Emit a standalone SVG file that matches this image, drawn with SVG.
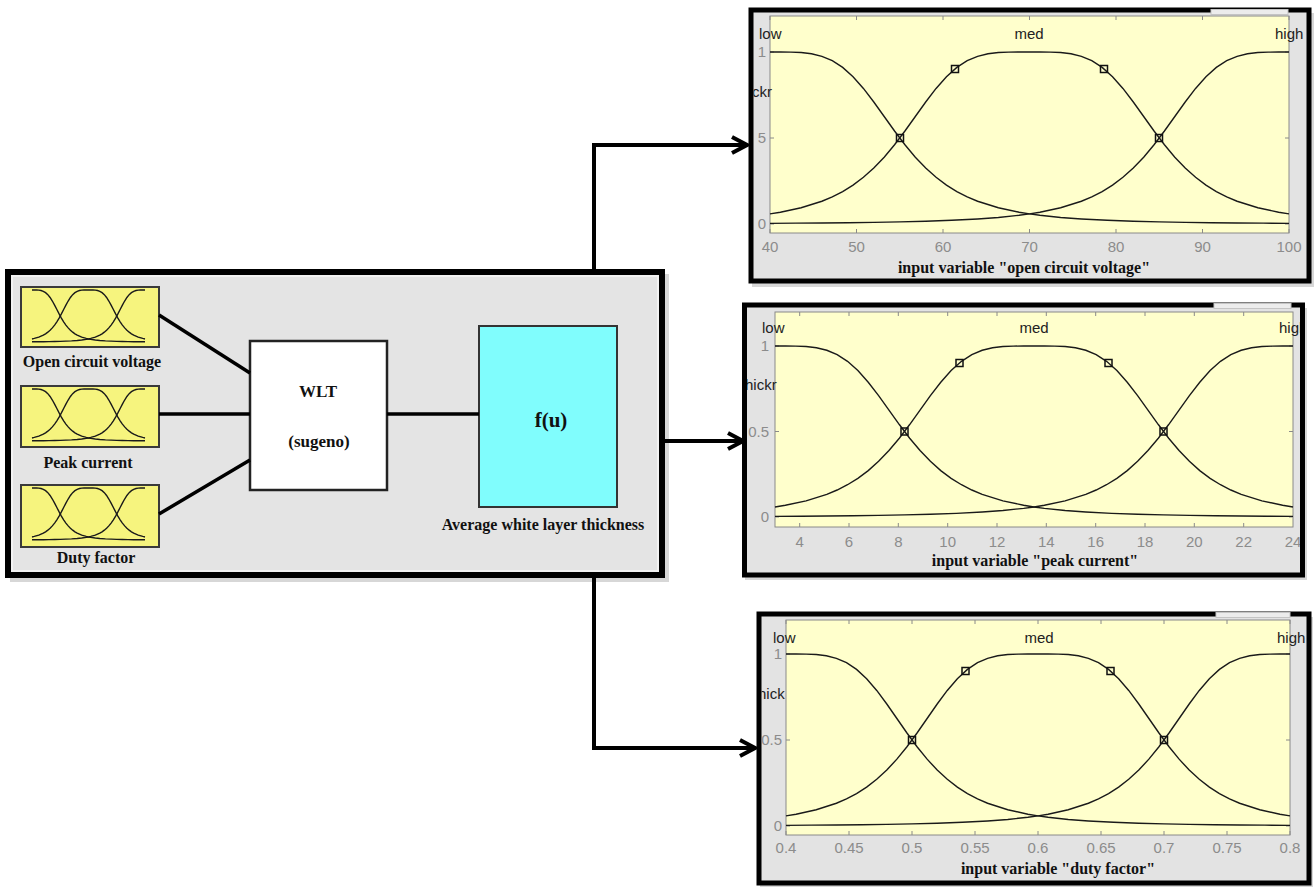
<svg xmlns="http://www.w3.org/2000/svg" xmlns:xlink="http://www.w3.org/1999/xlink" width="1316" height="887" viewBox="0 0 1316 887">
<style>
.frame{fill:#e3e3e3;stroke:#000;stroke-width:5}
.shadow{fill:#9a9a9a;opacity:0.4}
.plot{fill:#ffffcc;stroke:#8a8a8a;stroke-width:1}
.mfl{fill:none;stroke:#1a1a1a;stroke-width:1.4;vector-effect:non-scaling-stroke}
.mini .mfl{stroke:#3a3a10;stroke-width:1.6}
.tick{fill:none;stroke:#8a8a8a;stroke-width:1}
.tl{font-family:"Liberation Sans",Arial,sans-serif;font-size:15px;fill:#8c8c8c}
.ml{font-family:"Liberation Sans",Arial,sans-serif;font-size:15px;fill:#222}
.ttl{font-family:"Liberation Serif","Times New Roman",serif;font-weight:bold;font-size:16px;fill:#111;text-anchor:middle}
.lbl{font-family:"Liberation Serif","Times New Roman",serif;font-weight:bold;font-size:16px;fill:#111;text-anchor:middle}
.sq{fill:none;stroke:#111;stroke-width:1.5}
.conn{fill:none;stroke:#000;stroke-width:3.5}
.arrow{fill:none;stroke:#000;stroke-width:4;marker-end:url(#chev)}
.ybox{fill:#f6f47e;stroke:#3a3a3a;stroke-width:2}
.gui{fill:#ececec;stroke:#c4c4c4;stroke-width:1}
</style>
<defs>
<marker id="chev" markerUnits="userSpaceOnUse" markerWidth="22" markerHeight="22" viewBox="0 0 22 22" refX="19" refY="11" orient="auto">
<path d="M4,3 L19,11 L4,19" fill="none" stroke="#000" stroke-width="4"/>
</marker>
<g id="mf">
<polyline class="mfl" points="0,0 20,0 40,0.7 60,3.3 80,10.4 100,25 120,50.4 140,89.5 160,143.7 180,211.8 200,290.6 220,374.9 240,459.3 260,539.2 280,611.4 300,674.6 320,728.6 340,773.8 360,811.3 380,842.2 400,867.6 440,905.6 480,931.5 500,941.2 520,949.3 560,961.8 600,970.7 650,978.6 700,984 750,987.8 800,990.6 850,992.6 900,994.1 950,995.2 1000,996.1"/>
<polyline class="mfl" points="1000,0 980,0 960,0.7 940,3.3 920,10.4 900,25 880,50.4 860,89.5 840,143.7 820,211.8 800,290.6 780,374.9 760,459.3 740,539.2 720,611.4 700,674.6 680,728.6 660,773.8 640,811.3 620,842.2 600,867.6 560,905.6 520,931.5 500,941.2 480,949.3 440,961.8 400,970.7 350,978.6 300,984 250,987.8 200,990.6 150,992.6 100,994.1 50,995.2 0,996.1"/>
<polyline class="mfl" points="0,941.2 20,931.5 60,905.6 100,867.6 120,842.2 140,811.3 160,773.8 180,728.6 200,674.6 220,611.4 240,539.2 260,459.3 280,374.9 300,290.6 320,211.8 340,143.7 360,89.5 380,50.4 400,25 420,10.4 440,3.3 460,0.7 480,0 500,0 520,0 540,0.7 560,3.3 580,10.4 600,25 620,50.4 640,89.5 660,143.7 680,211.8 700,290.6 720,374.9 740,459.3 760,539.2 780,611.4 800,674.6 820,728.6 840,773.8 860,811.3 880,842.2 900,867.6 940,905.6 980,931.5 1000,941.2"/>
</g>
<clipPath id="clip2"><rect x="747" y="307.5" width="553" height="265"/></clipPath>
<clipPath id="clip3"><rect x="761.5" y="616.5" width="545" height="264"/></clipPath>
<clipPath id="clip1"><rect x="753.5" y="12.5" width="553" height="266"/></clipPath>
</defs>

<!-- Main FIS box -->
<g id="fis-system">
<rect class="shadow" x="10" y="274" width="659" height="308"/>
<rect x="8" y="272" width="654" height="303" fill="#e4e4e4" stroke="#000" stroke-width="6"/>
<rect x="12" y="276" width="646" height="295" fill="none" stroke="#f2f2f2" stroke-width="2"/>
</g>

<g id="input-open-circuit-voltage">
<rect class="ybox" x="21" y="287" width="138" height="60"/>
<use class="mini" xlink:href="#mf" href="#mf" transform="translate(32,290) scale(0.113,0.052)"/>
<text class="lbl" x="92" y="367">Open circuit voltage</text>
</g>
<g id="input-peak-current">
<rect class="ybox" x="21" y="386" width="138" height="61"/>
<use class="mini" xlink:href="#mf" href="#mf" transform="translate(32,389) scale(0.113,0.052)"/>
<text class="lbl" x="88" y="468">Peak current</text>
</g>
<g id="input-duty-factor">
<rect class="ybox" x="21" y="485" width="138" height="62"/>
<use class="mini" xlink:href="#mf" href="#mf" transform="translate(32,488) scale(0.113,0.052)"/>
<text class="lbl" x="96" y="563">Duty factor</text>
</g>

<g id="wlt-sugeno">
<rect x="250" y="341" width="137" height="149" fill="#fff" stroke="#222" stroke-width="2.5"/>
<text class="lbl" x="318" y="397" style="font-size:17px">WLT</text>
<text class="lbl" x="319" y="447" style="font-size:17px">(sugeno)</text>
</g>

<g id="output-fu">
<rect x="479" y="326" width="138" height="181" fill="#80fdfd" stroke="#333" stroke-width="2"/>
<text class="lbl" x="551" y="427" style="font-size:21px">f(u)</text>
<text class="lbl" x="543" y="530">Average white layer thickness</text>
</g>

<!-- Panel 1 -->
<g id="panel-open-circuit-voltage">
<rect class="shadow" x="752" y="13" width="562" height="274"/>
<rect class="frame" x="751" y="10" width="558" height="271"/>
<rect class="gui" x="1211" y="9.5" width="77" height="5"/>
<rect class="plot" x="770" y="16" width="519" height="217"/>
<path class="tick" d="M770,16v4M856.5,16v4M943,16v4M1029.5,16v4M1116,16v4M1202.5,16v4M1289,16v4M770,233v-4M856.5,233v-4M943,233v-4M1029.5,233v-4M1116,233v-4M1202.5,233v-4M1289,233v-4M770,52h4M770,138h4M770,224h4M1289,52h-4M1289,138h-4M1289,224h-4"/>
<use xlink:href="#mf" href="#mf" transform="translate(770,52) scale(0.519,0.172)"/>
<rect class="sq" x="896.5" y="134.5" width="7" height="7"/>
<rect class="sq" x="951.5" y="65.5" width="7" height="7"/>
<rect class="sq" x="1100.5" y="65.5" width="7" height="7"/>
<rect class="sq" x="1155.5" y="134.5" width="7" height="7"/>
<g class="tl" text-anchor="middle">
<text x="770" y="252">40</text><text x="856.5" y="252">50</text><text x="943" y="252">60</text><text x="1029.5" y="252">70</text><text x="1116" y="252">80</text><text x="1202.5" y="252">90</text><text x="1289" y="252">100</text>
</g>
<g class="tl" text-anchor="end">
<text x="766" y="57">1</text><text x="766" y="143">5</text><text x="766" y="229">0</text>
</g>
<g clip-path="url(#clip1)">
<text class="ml" x="752" y="97">ckr</text>
<text class="ml" x="759" y="39">low</text>
<text class="ml" x="1029" y="39" text-anchor="middle">med</text>
<text class="ml" x="1275" y="39">high</text>
</g>
<text class="ttl" x="1024" y="273">input variable "open circuit voltage"</text>
</g>

<!-- Panel 2 -->
<g id="panel-peak-current">
<rect class="shadow" x="745" y="308" width="562" height="272"/>
<rect class="frame" x="744.5" y="305" width="558" height="270"/>
<rect class="gui" x="1214" y="303.5" width="77" height="5"/>
<rect class="plot" x="775" y="312" width="518" height="215"/>
<path class="tick" d="M799.7,312v4M849,312v4M898.3,312v4M947.7,312v4M997,312v4M1046.3,312v4M1095.7,312v4M1145,312v4M1194.3,312v4M1243.7,312v4M799.7,527v-4M849,527v-4M898.3,527v-4M947.7,527v-4M997,527v-4M1046.3,527v-4M1095.7,527v-4M1145,527v-4M1194.3,527v-4M1243.7,527v-4M775,346h4M775,431.5h4M775,517h4M1293,346h-4M1293,431.5h-4M1293,517h-4"/>
<use xlink:href="#mf" href="#mf" transform="translate(775,346) scale(0.518,0.171)"/>
<rect class="sq" x="901" y="428" width="7" height="7"/>
<rect class="sq" x="956" y="359.5" width="7" height="7"/>
<rect class="sq" x="1105" y="359.5" width="7" height="7"/>
<rect class="sq" x="1160" y="428" width="7" height="7"/>
<g clip-path="url(#clip2)">
<g class="tl" text-anchor="middle">
<text x="799.7" y="547">4</text><text x="849" y="547">6</text><text x="898.3" y="547">8</text><text x="947.7" y="547">10</text><text x="997" y="547">12</text><text x="1046.3" y="547">14</text><text x="1095.7" y="547">16</text><text x="1145" y="547">18</text><text x="1194.3" y="547">20</text><text x="1243.7" y="547">22</text><text x="1293" y="547">24</text>
</g>
<g class="tl" text-anchor="end">
<text x="769" y="351">1</text><text x="769" y="437">0.5</text><text x="769" y="522">0</text>
</g>
<text class="ml" x="745" y="390">hickr</text>
<text class="ml" x="762" y="333">low</text>
<text class="ml" x="1034" y="333" text-anchor="middle">med</text>
<text class="ml" x="1279" y="333">high</text>
</g>
<text class="ttl" x="1035" y="566">input variable "peak current"</text>
</g>

<!-- Panel 3 -->
<g id="panel-duty-factor">
<rect class="shadow" x="760" y="617" width="553" height="270"/>
<rect class="frame" x="759" y="614" width="550" height="269"/>
<rect class="gui" x="1216" y="612.5" width="74" height="5"/>
<rect class="plot" x="786" y="620" width="504" height="215"/>
<path class="tick" d="M786,620v4M849,620v4M912,620v4M975,620v4M1038,620v4M1101,620v4M1164,620v4M1227,620v4M1290,620v4M786,835v-4M849,835v-4M912,835v-4M975,835v-4M1038,835v-4M1101,835v-4M1164,835v-4M1227,835v-4M1290,835v-4M786,654h4M786,740h4M786,826h4M1290,654h-4M1290,740h-4M1290,826h-4"/>
<use xlink:href="#mf" href="#mf" transform="translate(786,654) scale(0.504,0.172)"/>
<rect class="sq" x="908.5" y="736.5" width="7" height="7"/>
<rect class="sq" x="962" y="667.5" width="7" height="7"/>
<rect class="sq" x="1107" y="667.5" width="7" height="7"/>
<rect class="sq" x="1160.5" y="736.5" width="7" height="7"/>
<g clip-path="url(#clip3)">
<g class="tl" text-anchor="middle">
<text x="786" y="853">0.4</text><text x="849" y="853">0.45</text><text x="912" y="853">0.5</text><text x="975" y="853">0.55</text><text x="1038" y="853">0.6</text><text x="1101" y="853">0.65</text><text x="1164" y="853">0.7</text><text x="1227" y="853">0.75</text><text x="1290" y="853">0.8</text>
</g>
<g class="tl" text-anchor="end">
<text x="782" y="659">1</text><text x="782" y="745">0.5</text><text x="782" y="831">0</text>
</g>
<text class="ml" x="758" y="699">hick</text>
<text class="ml" x="773" y="643">low</text>
<text class="ml" x="1039" y="643" text-anchor="middle">med</text>
<text class="ml" x="1277" y="643">high</text>
</g>
<text class="ttl" x="1058" y="874">input variable "duty factor"</text>
</g>

<!-- Connectors -->
<g id="connectors">
<line class="conn" x1="159" y1="315" x2="250" y2="373"/>
<line class="conn" x1="159" y1="414" x2="250" y2="414"/>
<line class="conn" x1="159" y1="514" x2="250" y2="460"/>
<line class="conn" x1="387" y1="414" x2="479" y2="414"/>
<path class="arrow" d="M594,269 V145 H747"/>
<path class="arrow" d="M665,441 H743"/>
<path class="arrow" d="M594,578 V748 H755"/>
</g>
</svg>
